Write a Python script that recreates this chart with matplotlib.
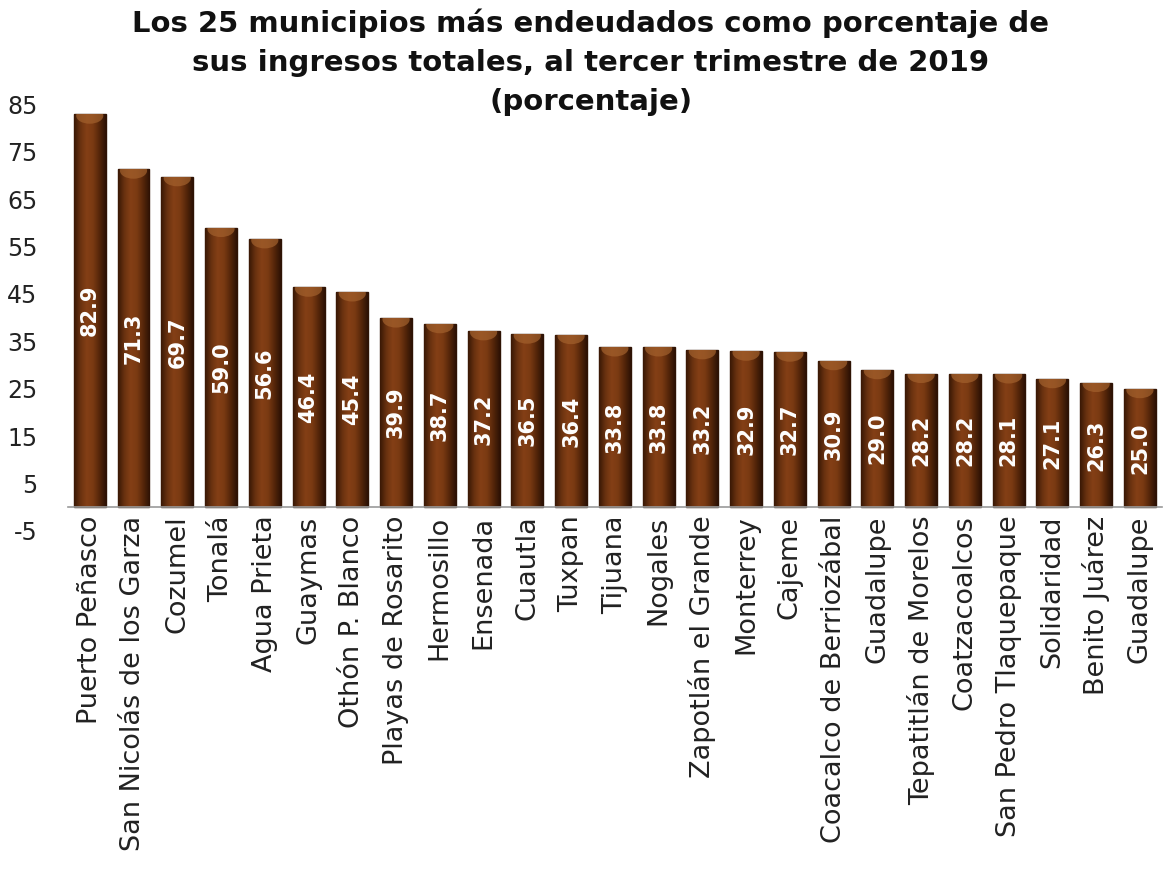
import numpy as np
import matplotlib
matplotlib.use('Agg')
import matplotlib.pyplot as plt
from matplotlib.colors import LinearSegmentedColormap
from matplotlib.patches import Ellipse

# ── datos ──────────────────────────────────────────────
municipios = [
    'Puerto Peñasco', 'San Nicolás de los Garza', 'Cozumel', 'Tonalá',
    'Agua Prieta', 'Guaymas', 'Othón P. Blanco', 'Playas de Rosarito',
    'Hermosillo', 'Ensenada', 'Cuautla', 'Tuxpan', 'Tijuana', 'Nogales',
    'Zapotlán el Grande', 'Monterrey', 'Cajeme', 'Coacalco de Berriozábal',
    'Guadalupe', 'Tepatitlán de Morelos', 'Coatzacoalcos',
    'San Pedro Tlaquepaque', 'Solidaridad', 'Benito Juárez', 'Guadalupe',
]
porcentaje = [82.9, 71.3, 69.7, 59.0, 56.6, 46.4, 45.4, 39.9, 38.7, 37.2,
              36.5, 36.4, 33.8, 33.8, 33.2, 32.9, 32.7, 30.9, 29.0, 28.2,
              28.2, 28.1, 27.1, 26.3, 25.0]
y_ticks = [-5, 5, 15, 25, 35, 45, 55, 65, 75, 85]

titulo = ('Los 25 municipios más endeudados como porcentaje de\n'
          'sus ingresos totales, al tercer trimestre de 2019\n'
          '(porcentaje)')

plt.rcParams['font.family'] = ['DejaVu Sans']

fig = plt.figure(figsize=(11.7, 8.69), dpi=100)
ax = fig.add_axes([0.058, 0.389, 0.935, 0.491])

# el eje x cruza en 0 (antes de poner etiquetas, porque resetea los ticks)
for s in ['top', 'right', 'left']:
    ax.spines[s].set_visible(False)
ax.spines['bottom'].set_position(('data', 0))
ax.spines['bottom'].set_color('#9a9a9a')
ax.spines['bottom'].set_linewidth(1.2)

x = np.arange(len(porcentaje))
bar_w = 0.73
bars = ax.bar(x, porcentaje, width=bar_w, color='#6e3510',
              edgecolor='#2e1304', linewidth=1.0, zorder=2)

# sombreado tipo cilindro
cmap = LinearSegmentedColormap.from_list(
    'cafe', ['#3a1805', '#6a3210', '#843f16', '#7a3a12', '#55260a', '#2e1204'])
grad = np.linspace(0, 1, 64).reshape(1, -1)
for b in bars:
    x0, w, h = b.get_x(), b.get_width(), b.get_height()
    im = ax.imshow(grad, cmap=cmap, aspect='auto',
                   extent=(x0, x0 + w, 0, h), zorder=2.5)
    im.set_clip_path(b)
    # tapa superior: media luna clara
    cap = Ellipse((x0 + w / 2, h - 0.3), w * 0.85, 3.4,
                  facecolor='#a3612d', edgecolor='none', alpha=0.7, zorder=3)
    ax.add_patch(cap)
    cap.set_clip_path(b)

ax.bar_label(bars, labels=[f'{v:.1f}' for v in porcentaje], label_type='center',
             rotation=90, color='white', fontsize=15, fontweight='bold', zorder=4)

ax.set_xlim(-0.5, len(porcentaje) - 0.5)
ax.set_ylim(-5, 85)
ax.set_yticks(y_ticks)
ax.set_yticklabels([str(t) for t in y_ticks])
ax.set_xticks(x)
ax.set_xticklabels(municipios, rotation=90, va='top', ha='center')

ax.tick_params(axis='both', length=0, colors='#222222')
ax.tick_params(axis='y', pad=22, labelsize=17)
ax.tick_params(axis='x', pad=6, labelsize=19.5)

fig.text(0.505, 0.99, titulo, ha='center', va='top', fontsize=21,
         fontweight='bold', color='#111111', linespacing=1.5)

fig.savefig('out.png', dpi=100, facecolor='white')
